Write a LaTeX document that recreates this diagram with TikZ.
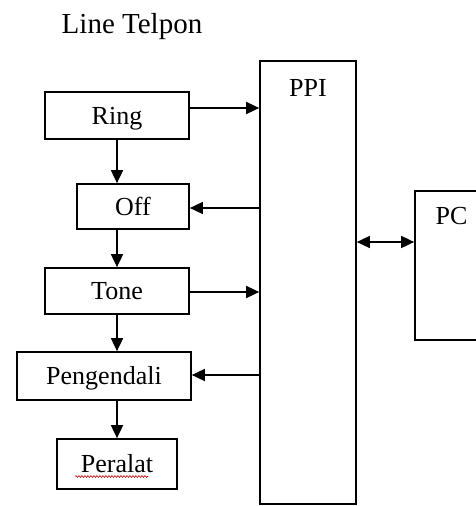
\documentclass[tikz,border=0pt]{standalone}
\usepackage{fontspec}
\setmainfont{Liberation Serif}
\usetikzlibrary{arrows.meta,decorations.pathmorphing}
\begin{document}
\begin{tikzpicture}[x=1pt,y=-1pt,
  blk/.style={draw,line width=1.7pt,inner sep=0pt,text height=17.6pt,text depth=0pt,font=\fontsize{26}{26}\selectfont},
  lbl/.style={inner sep=0pt,font=\fontsize{26}{26}\selectfont},
  arr/.style={line width=1.7pt,-{Triangle[length=13pt,width=12pt]}},
  darr/.style={line width=1.7pt,{Triangle[length=13pt,width=12pt]}-{Triangle[length=13pt,width=12pt]}}]
\useasboundingbox (0,0) rectangle (476,506);
\clip (0,0) rectangle (476,506);
\node[inner sep=0pt,anchor=base,font=\fontsize{29}{29}\selectfont] (title) at (132,33) {Line Telpon};
% boxes
\node[blk,minimum width=144pt,minimum height=47pt] (ring) at (117,115.5) {Ring};
\node[blk,minimum width=112pt,minimum height=45pt] (off) at (133,206.5) {Off};
\node[blk,minimum width=144pt,minimum height=46pt] (tone) at (117,291) {Tone};
\node[blk,minimum width=174pt,minimum height=48pt] (peng) at (104,376) {Pengendali};
\node[blk,minimum width=120pt,minimum height=50pt] (peralat) at (117,464) {Peralat};
\node[blk,minimum width=96pt,minimum height=443pt] (ppi) at (308,282.5) {};
\node[lbl,anchor=north] (ppilbl) at ([yshift=-19pt]ppi.north) {PPI};
\node[blk,minimum width=80pt,minimum height=149pt] (pc) at (455,265.5) {};
\node[lbl,anchor=north] (pclbl) at (451.5,207) {PC};
% spell-check underline
\draw[red!75!black,line width=0.6pt,decorate,decoration={snake,amplitude=0.9pt,segment length=3pt}] (75,476.5) -- (148,476.5);
% helper coordinates
\coordinate (y1) at (0,108);
\coordinate (y2) at (0,208);
\coordinate (y3) at (0,292);
\coordinate (y4) at (0,375);
\coordinate (y5) at (0,242);
\coordinate (vx) at (117,0);
% connectors
\draw[arr] (ring.east |- y1) -- (ppi.west |- y1);
\draw[arr] (ppi.west |- y2) -- (off.east |- y2);
\draw[arr] (tone.east |- y3) -- (ppi.west |- y3);
\draw[arr] (ppi.west |- y4) -- (peng.east |- y4);
\draw[darr] (ppi.east |- y5) -- (pc.west |- y5);
\draw[arr] (vx |- ring.south) -- (vx |- off.north);
\draw[arr] (vx |- off.south) -- (vx |- tone.north);
\draw[arr] (vx |- tone.south) -- (vx |- peng.north);
\draw[arr] (vx |- peng.south) -- (vx |- peralat.north);
\end{tikzpicture}
\end{document}
